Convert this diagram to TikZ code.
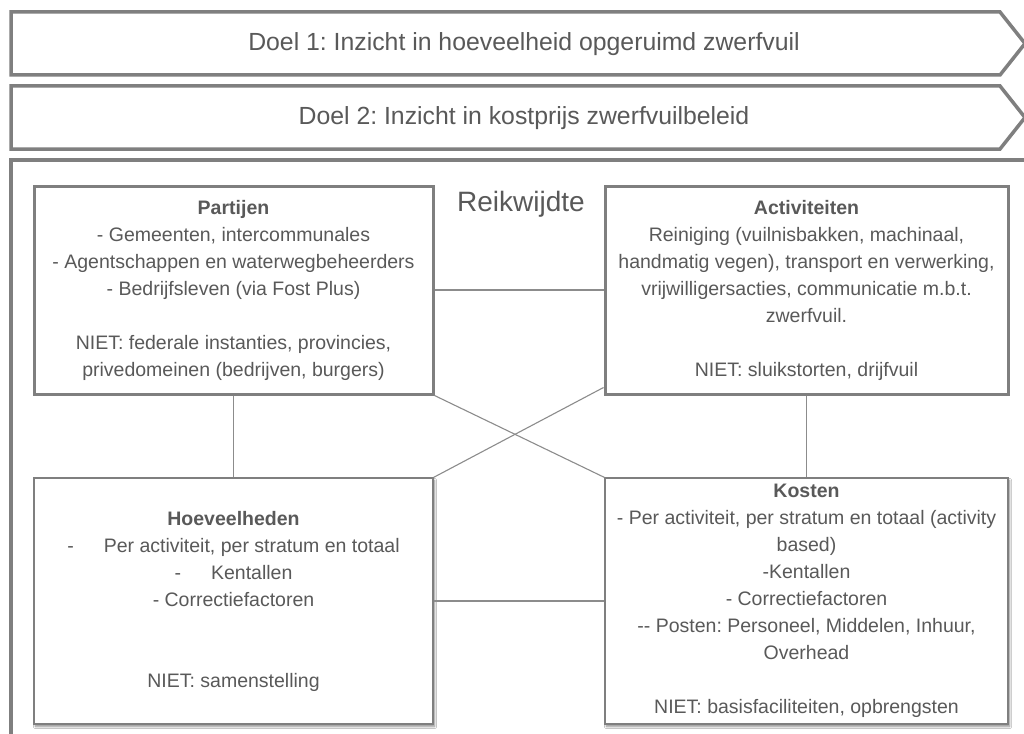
\documentclass[tikz,border=0pt]{standalone}
\usepackage{fontspec}
\setmainfont{Liberation Sans}
\usetikzlibrary{calc,shadows.blur}
\definecolor{txt}{HTML}{595959}
\definecolor{edge}{HTML}{7F7F7F}
\definecolor{wire}{HTML}{8C8C8C}
\frenchspacing
\begin{document}
\begin{tikzpicture}[x=1pt,y=-1pt,
  banner/.style={draw=edge,line width=3.5pt,line join=miter},
  bannertext/.style={text=txt,font=\fontsize{24.8}{29}\selectfont,inner sep=0pt},
  boxtext/.style={align=center,text=txt,font=\fontsize{19.5}{27}\selectfont,inner sep=0pt},
  scopebox/.style={boxtext,draw=edge,line width=3pt,fill=white},
  databox/.style={boxtext,draw=edge,line width=1.2pt,fill=white,
    blur shadow={shadow xshift=1.5pt,shadow yshift=-2.5pt,shadow blur steps=6,shadow opacity=45}},
  link/.style={draw=wire,line width=1.1pt}]

\useasboundingbox (0,0) rectangle (1024,733);
\clip (0,0) rectangle (1024,733);
\fill[white] (0,0) rectangle (1024,733);

% goal banners
\draw[banner] (11,12) -- (1000,12) -- (1025,43.5) -- (1000,75) -- (11,75) -- cycle;
\node[bannertext] (doel1) at (524,44) {Doel 1: Inzicht in hoeveelheid opgeruimd zwerfvuil};
\draw[banner] (11,86) -- (1000,86) -- (1025,117.5) -- (1000,149) -- (11,149) -- cycle;
\node[bannertext] (doel2) at (524,118) {Doel 2: Inzicht in kostprijs zwerfvuilbeleid};

% scope frame
\draw[banner] (11,160) rectangle (1060,760);
\node[text=txt,font=\fontsize{28}{32}\selectfont,inner sep=0pt] (reik) at (521,204) {Reikwijdte};

% four blocks
\node[scopebox,minimum width=399pt,minimum height=208pt] (par) at (233.5,290) {%
\textbf{Partijen}\\
- Gemeenten, intercommunales\\
- Agentschappen en waterwegbeheerders\\
- Bedrijfsleven (via Fost Plus)\\[27pt]
NIET: federale instanties, provincies,\\
privedomeinen (bedrijven, burgers)};

\node[scopebox,minimum width=403pt,minimum height=208pt] (act) at (806.5,290) {%
\textbf{Activiteiten}\\
Reiniging (vuilnisbakken, machinaal,\\
handmatig vegen), transport en verwerking,\\
vrijwilligersacties, communicatie m.b.t.\\
zwerfvuil.\\[27pt]
NIET: sluikstorten, drijfvuil};

\node[databox,minimum width=399pt,minimum height=246pt] (hoev) at (233.5,601) {%
\textbf{Hoeveelheden}\\
-\hspace{30pt}Per activiteit, per stratum en totaal\\
-\hspace{30pt}Kentallen\\
- Correctiefactoren\\[54pt]
NIET: samenstelling};

\node[databox,minimum width=403pt,minimum height=246pt] (kos) at (806.5,601) {%
\textbf{Kosten}\\
- Per activiteit, per stratum en totaal (activity\\
based)\\
-Kentallen\\
- Correctiefactoren\\
-{}- Posten: Personeel, Middelen, Inhuur,\\
Overhead\\[27pt]
NIET: basisfaciliteiten, opbrengsten};

% relations between the blocks
\draw[link] (par.east) -- (act.west);
\draw[link] (par.south) -- (hoev.north);
\draw[link] (act.south) -- (kos.north);
\draw[link] (hoev.east) -- (kos.west);
\draw[link] (par.south east) -- (kos.north west);
\coordinate (actin) at ($(act.south west)+(0,-8)$);
\draw[link] (hoev.north east) -- (actin);
\end{tikzpicture}
\end{document}
